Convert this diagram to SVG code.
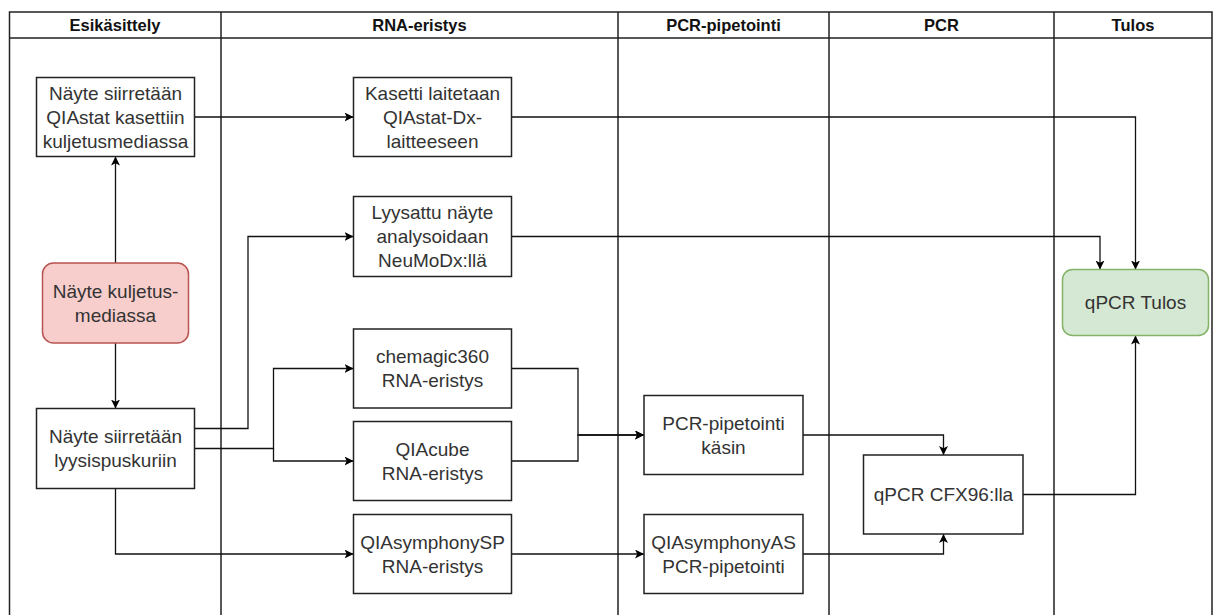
<svg xmlns="http://www.w3.org/2000/svg" width="1217" height="615" viewBox="0 0 1217 615">
<defs>
<marker id="arr" viewBox="0 0 10 10" refX="10" refY="5" markerWidth="9" markerHeight="9" markerUnits="userSpaceOnUse" orient="auto">
<path d="M0,0 L10,5 L0,10 L2.5,5 z" fill="#000"/>
</marker>
<style>
.lane{fill:none;stroke:#222;stroke-width:1.5}
.hd{font-family:"Liberation Sans",Arial,sans-serif;font-weight:bold;font-size:16.5px;fill:#111;text-anchor:middle}
.box{fill:#fff;stroke:#222;stroke-width:1.5}
.red{fill:#f8cecc;stroke:#b85450;stroke-width:1.5}
.grn{fill:#d5e8d4;stroke:#82b366;stroke-width:1.5}
.t{font-family:"Liberation Sans",Arial,sans-serif;font-size:19px;fill:#333;text-anchor:middle}
.c{fill:none;stroke:#111;stroke-width:1.3;marker-end:url(#arr)}
</style>
</defs>
<rect width="1217" height="615" fill="#fff"/>
<g id="lanes">
<path class="lane" d="M9.5,630 V12 H1212 V630 M9.5,38 H1212 M221,12 V630 M618,12 V630 M829,12 V630 M1054,12 V630"/>
<text class="hd" x="115" y="31">Esikäsittely</text>
<text class="hd" x="419.5" y="31">RNA-eristys</text>
<text class="hd" x="723.5" y="31">PCR-pipetointi</text>
<text class="hd" x="941.5" y="31">PCR</text>
<text class="hd" x="1133" y="31">Tulos</text>
</g>
<g id="connectors">
<path class="c" d="M115.5,263 V156.5"/>
<path class="c" d="M115.5,343 V408.5"/>
<path class="c" d="M194.5,117 H353.5"/>
<path class="c" d="M511.5,117 H1135.5 V269.5"/>
<path class="c" d="M511.5,236.5 H1100 V269.5"/>
<path class="c" d="M194.5,428.5 H248 V236.5 H353.5"/>
<path class="c" d="M194.5,448.5 H273.5 V368.5 H353.5"/>
<path class="c" d="M273.5,448.5 V461 H353.5"/>
<path class="c" d="M115.5,488.5 V554 H353.5"/>
<path class="c" d="M511.5,368.5 H578 V435 H644"/>
<path class="c" d="M511.5,461 H578 V435 H644"/>
<path class="c" d="M511.5,554 H644"/>
<path class="c" d="M803,435 H943.5 V455"/>
<path class="c" d="M803,554 H943.5 V534"/>
<path class="c" d="M1023,494.5 H1135.5 V335.5"/>
</g>
<g id="n-qiastat">
<rect class="box" x="36.5" y="77.5" width="158" height="79"/>
<text class="t" x="115.5" y="100">Näyte siirretään</text>
<text class="t" x="115.5" y="124">QIAstat kasettiin</text>
<text class="t" x="115.5" y="148">kuljetusmediassa</text>
</g>
<g id="n-kasetti">
<rect class="box" x="353.5" y="77.5" width="158" height="79"/>
<text class="t" x="432.5" y="100">Kasetti laitetaan</text>
<text class="t" x="432.5" y="124">QIAstat-Dx-</text>
<text class="t" x="432.5" y="148">laitteeseen</text>
</g>
<g id="n-lyysattu">
<rect class="box" x="353.5" y="196.5" width="158" height="80"/>
<text class="t" x="432.5" y="219">Lyysattu näyte</text>
<text class="t" x="432.5" y="243">analysoidaan</text>
<text class="t" x="432.5" y="267">NeuMoDx:llä</text>
</g>
<g id="n-naytekuljetus">
<rect class="red" x="42.5" y="263" width="146" height="80" rx="11"/>
<text class="t" x="115.5" y="298">Näyte kuljetus-</text>
<text class="t" x="115.5" y="322">mediassa</text>
</g>
<g id="n-chemagic">
<rect class="box" x="353.5" y="329" width="158" height="79"/>
<text class="t" x="432.5" y="363">chemagic360</text>
<text class="t" x="432.5" y="387">RNA-eristys</text>
</g>
<g id="n-qiacube">
<rect class="box" x="353.5" y="421.5" width="158" height="79"/>
<text class="t" x="432.5" y="456">QIAcube</text>
<text class="t" x="432.5" y="480">RNA-eristys</text>
</g>
<g id="n-lyysis">
<rect class="box" x="36.5" y="408.5" width="158" height="80"/>
<text class="t" x="115.5" y="443">Näyte siirretään</text>
<text class="t" x="115.5" y="467">lyysispuskuriin</text>
</g>
<g id="n-qiasymphonysp">
<rect class="box" x="353.5" y="514.5" width="158" height="79"/>
<text class="t" x="432.5" y="549">QIAsymphonySP</text>
<text class="t" x="432.5" y="573">RNA-eristys</text>
</g>
<g id="n-pcrkasin">
<rect class="box" x="644" y="395.5" width="159" height="79"/>
<text class="t" x="723.5" y="430">PCR-pipetointi</text>
<text class="t" x="723.5" y="454">käsin</text>
</g>
<g id="n-qiasymphonyas">
<rect class="box" x="644" y="514.5" width="159" height="79"/>
<text class="t" x="723.5" y="549">QIAsymphonyAS</text>
<text class="t" x="723.5" y="573">PCR-pipetointi</text>
</g>
<g id="n-cfx">
<rect class="box" x="863.5" y="455" width="159.5" height="79"/>
<text class="t" x="943.5" y="501">qPCR CFX96:lla</text>
</g>
<g id="n-tulos">
<rect class="grn" x="1062.5" y="269.5" width="146" height="66" rx="10"/>
<text class="t" x="1135.5" y="309">qPCR Tulos</text>
</g>
</svg>
